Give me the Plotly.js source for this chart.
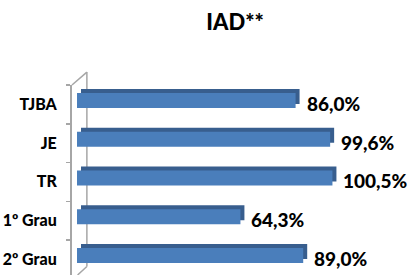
<!DOCTYPE html>
<html>
<head>
<meta charset="utf-8">
<script src="https://cdn.plot.ly/plotly-3.0.1.min.js"></script>
<style>html,body{margin:0;padding:0;background:#fff;}#chart{width:414px;height:275px;}</style>
</head>
<body>
<div id="chart"></div>
<script>
const categories = ["TJBA", "JE", "TR", "1º Grau", "2º Grau"];
const values = [86.0, 99.6, 100.5, 64.3, 89.0];
const chartTitle = "IAD**";

const labels = values.map(v => v.toFixed(1).replace('.', ',') + '%');
const FONT = "Lato, 'Open Sans', sans-serif";

const depth = 1.57;

const backBars = {
  type: 'bar', orientation: 'h',
  y: categories, x: values, base: depth,
  offset: -0.40, width: 0.39,
  marker: {color: '#385e8e', line: {width: 0}},
  hoverinfo: 'skip'
};
const frontBars = {
  type: 'bar', orientation: 'h',
  y: categories, x: values, base: 0,
  offset: -0.295, width: 0.39,
  marker: {color: '#4a7ebb', line: {width: 0}},
  hoverinfo: 'skip'
};

const annotations = categories.map((c, i) => ({
  x: values[i], y: c, xref: 'x', yref: 'y',
  text: labels[i], showarrow: false,
  xanchor: 'left', yanchor: 'middle', xshift: 9, yshift: 1,
  font: {family: FONT, size: 19, color: '#000', weight: 900}
}));

const gray = '#a6a6a6';
const shapes = [
  {type: 'line', xref: 'paper', yref: 'paper', x0: 0.048, x1: 0.048, y0: 0.045, y1: 1.068, line: {color: gray, width: 1.5}, layer: 'below'},
  {type: 'line', xref: 'paper', yref: 'paper', x0: 0, x1: 0.048, y0: 1, y1: 1.068, line: {color: gray, width: 1.5}, layer: 'below'},
  {type: 'line', xref: 'paper', yref: 'paper', x0: 0.048, x1: 0.018, y0: 0.045, y1: 0.0, line: {color: gray, width: 1.5}, layer: 'below'}
];

const layout = {
  width: 414, height: 275,
  margin: {l: 72, r: 32, t: 85, b: 0, pad: 0},
  paper_bgcolor: '#fff', plot_bgcolor: 'rgba(0,0,0,0)',
  showlegend: false,
  barmode: 'overlay',
  title: {
    text: chartTitle,
    x: 0.568, xref: 'container', xanchor: 'center',
    y: 0.92, yref: 'container', yanchor: 'middle',
    font: {family: FONT, size: 22, color: '#000', weight: 900}
  },
  xaxis: {
    range: [-1.97, 120], visible: false, showgrid: false, zeroline: false, fixedrange: true
  },
  yaxis: {
    type: 'category', categoryorder: 'array', categoryarray: categories,
    range: [4.403, -0.5], autorange: false,
    showline: true, linecolor: gray, linewidth: 2,
    ticks: 'outside', tickson: 'boundaries', ticklen: 4, tickcolor: gray, tickwidth: 1.5,
    ticklabelstandoff: 10,
    showgrid: false, zeroline: false,
    tickfont: {family: FONT, size: 16, color: '#000', weight: 900}
  },
  shapes: shapes,
  annotations: annotations
};

Plotly.newPlot('chart', [backBars, frontBars], layout, {staticPlot: true, displayModeBar: false});
</script>
</body>
</html>
